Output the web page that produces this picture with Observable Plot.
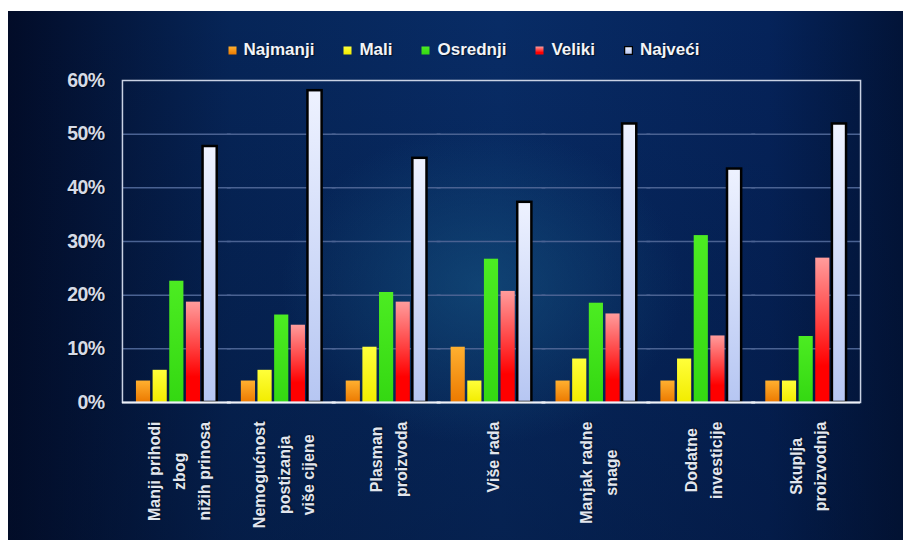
<!DOCTYPE html>
<html>
<head>
<meta charset="utf-8">
<script src="https://cdn.jsdelivr.net/npm/d3@7"></script>
<script src="https://cdn.jsdelivr.net/npm/@observablehq/plot@0.6"></script>
<style>
  html, body { margin: 0; padding: 0; background: #ffffff; }
  #wrap { position: relative; width: 907px; height: 546px; overflow: hidden; }
  #panel {
    position: absolute; left: 8px; top: 11px; width: 895px; height: 529px;
    background:
      radial-gradient(ellipse 30% 40% at 53% 52%, rgba(25,95,140,0.5), rgba(10,50,100,0) 75%),
      linear-gradient(to bottom, rgba(10,40,90,0.0) 0%, rgba(2,14,40,0.35) 100%),
      linear-gradient(to right, #020c28 0%, #062558 25%, #082c66 55%, #05235a 85%, #021438 100%);
  }
  #legend {
    position: absolute; left: 0; width: 907px; top: 38px; height: 24px;
    display: flex; justify-content: center; align-items: center; gap: 29px;
    padding-left: 20px; box-sizing: border-box;
    font-family: "Liberation Sans", Arial, sans-serif; font-weight: bold; font-size: 17px;
    color: #f2f4f8; text-shadow: 1px 1px 1px rgba(0,0,0,0.6);
  }
  #legend .item { display: flex; align-items: center; }
  #legend svg { margin-right: 7px; }
  #chart { position: absolute; left: 0; top: 0; }
</style>
</head>
<body>
<div id="wrap">
  <div id="panel"></div>
  <div id="legend"></div>
  <div id="chart"></div>
</div>
<script>
const categories = [
  "Manji prihodi\nzbog\nnižih prinosa",
  "Nemogućnost\npostizanja\nviše cijene",
  "Plasman\nproizvoda",
  "Više rada",
  "Manjak radne\nsnage",
  "Dodatne\ninvesticije",
  "Skuplja\nproizvodnja"
];
const series = ["Najmanji", "Mali", "Osrednji", "Veliki", "Najveći"];
const najmanji = [4, 4, 4, 10.3, 4, 4, 4];
const mali     = [6, 6, 10.3, 4, 8.1, 8.1, 4];
const osrednji = [22.6, 16.3, 20.5, 26.7, 18.5, 31.1, 12.3];
const veliki   = [18.7, 14.4, 18.7, 20.7, 16.5, 12.4, 26.9];
const najveci  = [47.7, 58.1, 45.5, 37.3, 51.9, 43.5, 51.9];
const yTicks = [0, 10, 20, 30, 40, 50, 60];
const gridTicks = [10, 20, 30, 40, 50];

const seriesValues = [najmanji, mali, osrednji, veliki, najveci];
const data = [];
categories.forEach((c, i) => {
  series.forEach((s, j) => data.push({cat: c, series: s, value: seriesValues[j][i]}));
});

const gradStops = [
  [["0%", "#ffb030"], ["100%", "#ec7a00"]],
  [["0%", "#ffff3a"], ["100%", "#f2ec00"]],
  [["0%", "#4cec22"], ["100%", "#34d812"]],
  [["0%", "#ff9c9c"], ["45%", "#ff4040"], ["75%", "#ff0000"], ["100%", "#ff0000"]],
  [["0%", "#eef2ff"], ["100%", "#b6c6f2"]]
];
const fills = series.map((s, i) => `url(#g${i})`);

const plot = Plot.plot({
  width: 907,
  height: 546,
  marginLeft: 122,
  marginRight: 47,
  marginTop: 80,
  marginBottom: 144,
  style: {background: "transparent", fontFamily: "Liberation Sans, Arial, sans-serif"},
  fx: {domain: categories, paddingInner: 0.23, paddingOuter: 0.133, round: false, label: null},
  x: {domain: series, paddingInner: 0.15, paddingOuter: 0, round: false, axis: null},
  y: {domain: [0, 60], axis: null},
  color: {domain: series, range: fills},
  marks: [
    Plot.ruleY(gridTicks, {y: d => d, stroke: "#4a6292", strokeWidth: 1.5, insetLeft: -14, insetRight: -14}),
    Plot.barY(data, {fx: "cat", x: "series", y: "value", fill: "series"}),
    Plot.barY(data, {filter: d => d.series === "Najveći", fx: "cat", x: "series", y: "value", fill: "none", stroke: "#000", strokeWidth: 2.5}),
    Plot.frame({facet: "super", stroke: "#c9d2e4", strokeWidth: 1.5, insetLeft: -14, insetRight: -14}),
    Plot.ruleY([0], {stroke: "#eef1f8", strokeWidth: 2, insetLeft: -14, insetRight: -14}),
    Plot.axisY({
      ticks: yTicks, tickFormat: d => d + "%", tickSize: 0, tickPadding: 32,
      fontSize: 19.5, fontWeight: "bold", fill: "#d6dbe6",
      label: null
    }),
    Plot.axisFx({
      anchor: "bottom", tickSize: 0, tickPadding: 19, tickRotate: -90,
      fontSize: 16, fontWeight: "bold", fill: "#e2e6ee", lineHeight: 1.55, label: null
    })
  ]
});

document.getElementById("chart").appendChild(plot);

// gradient definitions
const svgSel = d3.select(plot.tagName.toLowerCase() === "svg" ? plot : plot.querySelector("svg"));
const defs = svgSel.insert("defs", ":first-child");
gradStops.forEach((stops, i) => {
  const g = defs.append("linearGradient").attr("id", "g" + i)
    .attr("x1", 0).attr("y1", 0).attr("x2", 0).attr("y2", 1);
  stops.forEach(([o, c]) => g.append("stop").attr("offset", o).attr("stop-color", c));
});

svgSel.selectAll("text").each(function () {
  const t = this.getAttribute("transform") || "";
  const tspans = this.querySelectorAll("tspan");
  if (/rotate\(-90\)/.test(t)) {
    // center multi-line category labels within their block, block top at axis
    let maxLen = 0;
    if (tspans.length) {
      tspans.forEach(ts => { maxLen = Math.max(maxLen, ts.getComputedTextLength()); });
      this.setAttribute("text-anchor", "middle");
      tspans.forEach(ts => ts.setAttribute("x", -maxLen / 2));
    }
  } else if (/%$/.test(this.textContent)) {
    // slightly condensed look for the percentage tick labels
    d3.select(this).style("letter-spacing", "-0.6px");
  }
});
svgSel.selectAll("text").style("text-shadow", "1px 1px 1px rgba(0,0,0,0.55)");

// legend
const legend = d3.select("#legend");
series.forEach((s, i) => {
  const item = legend.append("div").attr("class", "item");
  const sw = item.append("svg").attr("width", 9).attr("height", 9);
  sw.append("rect").attr("x", 0.5).attr("y", 0.5).attr("width", 8).attr("height", 8)
    .attr("fill", fills[i]).attr("stroke", i === 4 ? "#000" : "none").attr("stroke-width", i === 4 ? 1.5 : 0);
  item.append("span").text(s);
});
</script>
</body>
</html>
